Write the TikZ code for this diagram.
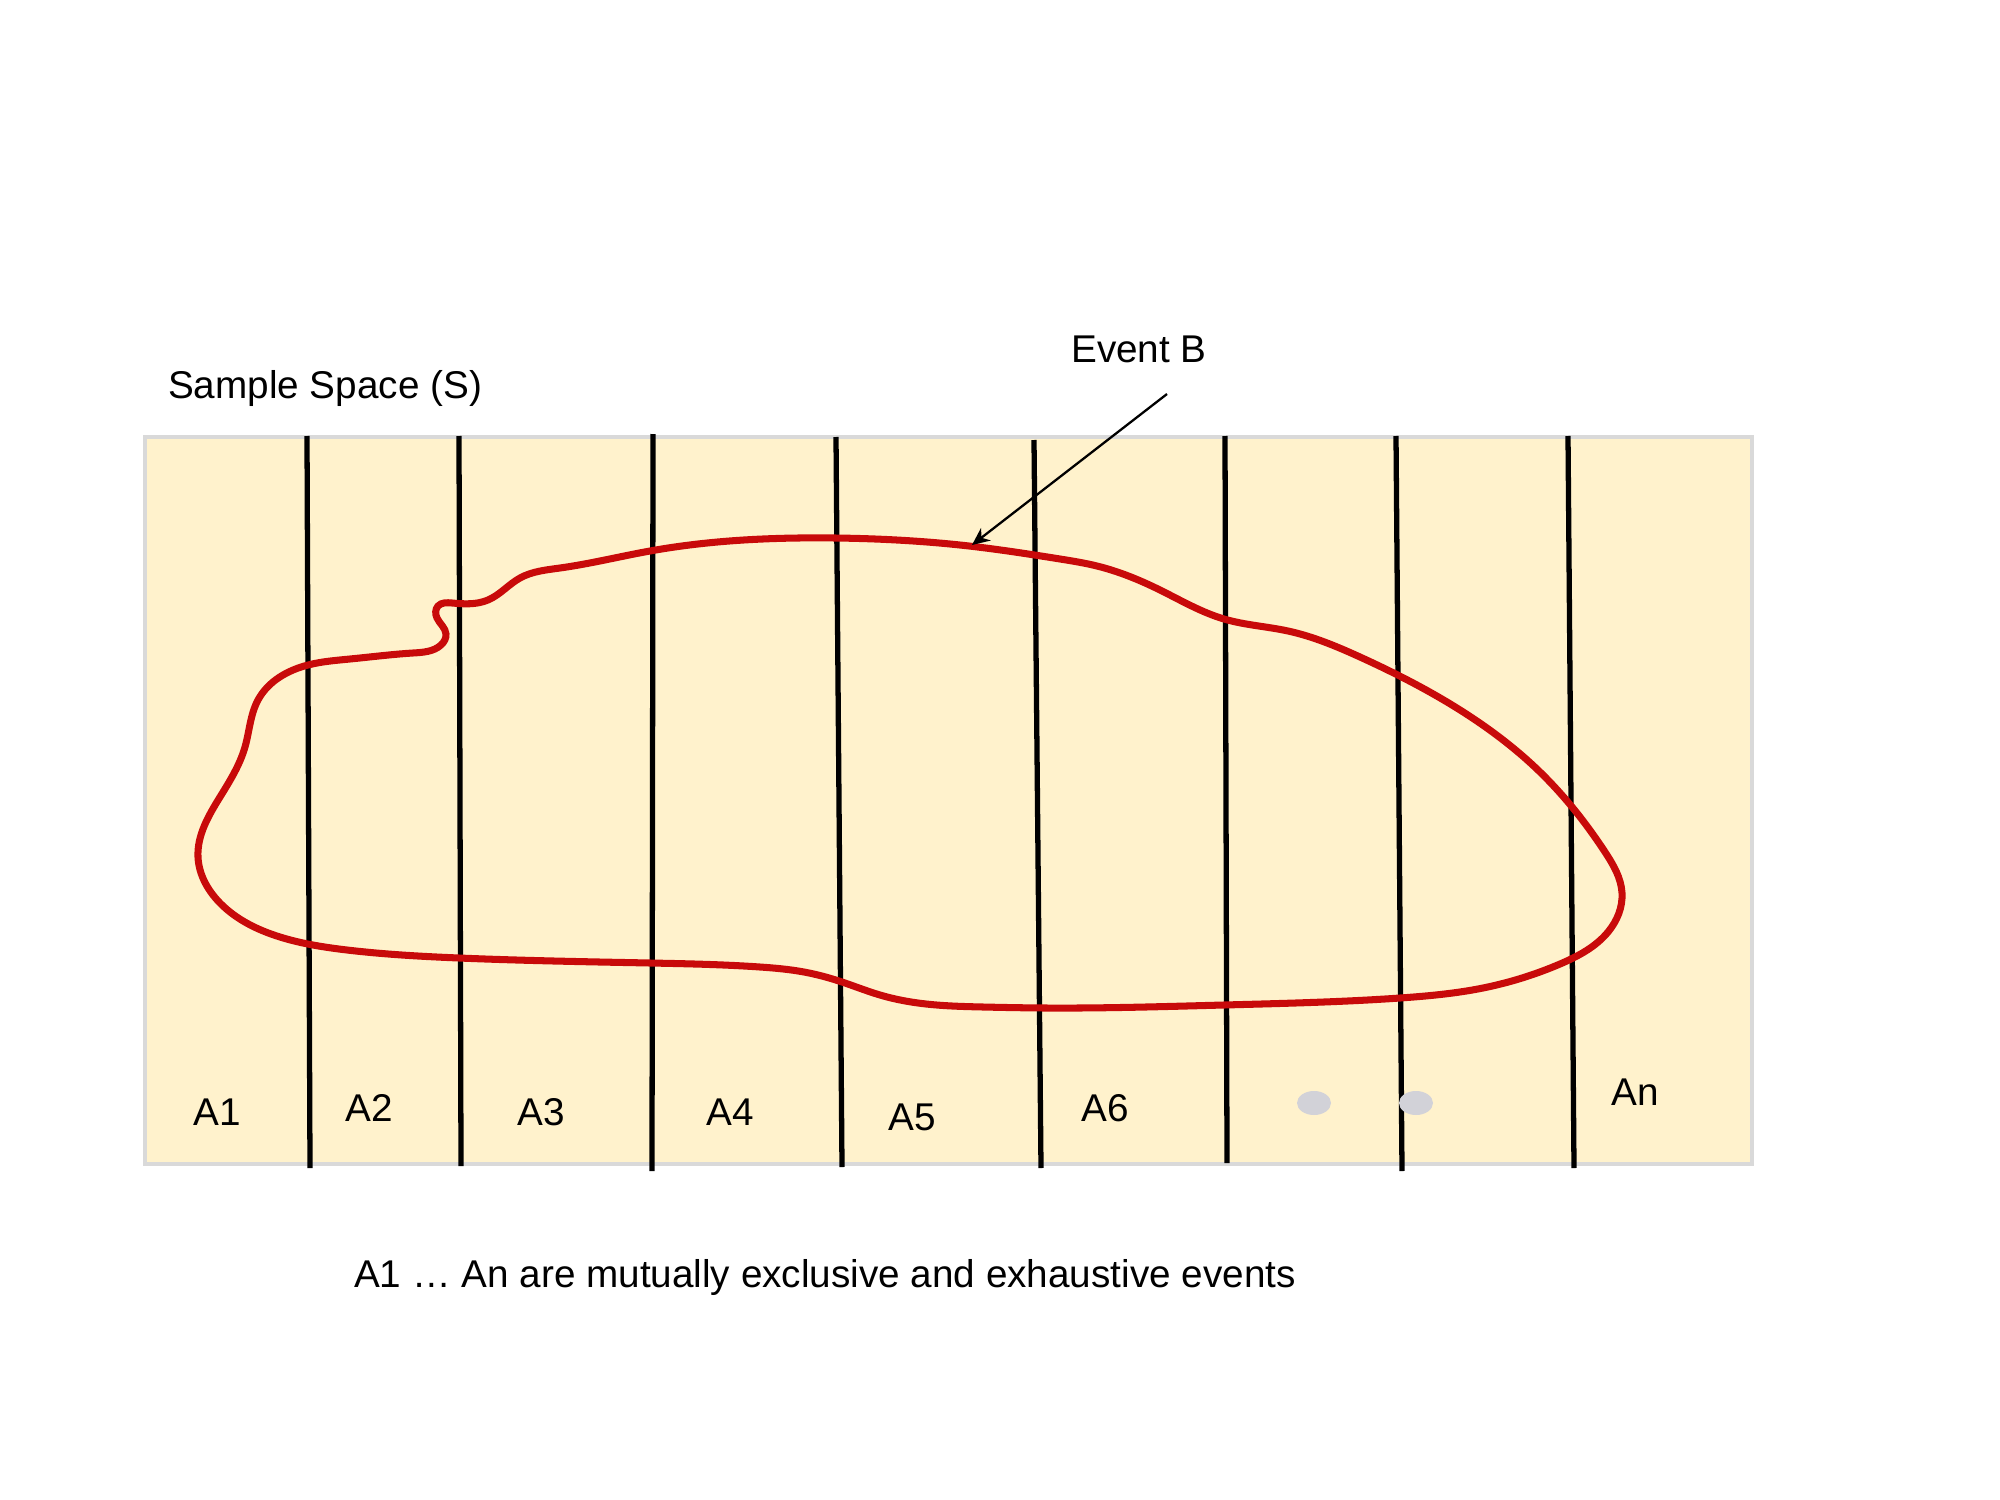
\documentclass[tikz,border=0pt]{standalone}
\usepackage{fontspec}
\setmainfont{Liberation Sans}
\usetikzlibrary{arrows.meta,hobby}
\definecolor{cream}{RGB}{255,242,204}
\definecolor{boxedge}{RGB}{217,217,217}
\definecolor{eventred}{RGB}{200,10,10}
\definecolor{dotgrey}{RGB}{210,210,216}
\tikzset{
  divider/.style={line width=1.5pt, black},
  lbl/.style={font=\fontsize{11}{13}\selectfont, inner sep=0pt},
  eventcurve/.style={line width=2pt, eventred},
  pointer/.style={line width=0.65pt, -{Stealth[length=5pt,width=4.5pt]}},
  dotmark/.style={fill=dotgrey, draw=none}
}
\begin{document}
\begin{tikzpicture}[x=0.01cm,y=-0.01cm]
\useasboundingbox (0,0) rectangle (2000,1500);
% sample space
\draw[fill=cream, draw=boxedge, line width=0.9pt] (145,437) rectangle (1752,1164);
% dividers
\draw[divider] (307,436) -- (310,1168);
\draw[divider] (459,436) -- (461,1166);
\draw[divider] (653,434) -- (652,1171);
\draw[divider] (836,437) -- (842,1167);
\draw[divider] (1034,440) -- (1041,1168);
\draw[divider] (1225,436) -- (1227,1163);
\draw[divider] (1396,436) -- (1402,1171);
\draw[divider] (1568,436) -- (1574,1168);
% event B
\draw[eventcurve, use Hobby shortcut, closed=true]
 (308,665) .. (350,659) .. (413,653) .. (441,645) .. (446,634)
 .. (437,618) .. (438,606) .. (452,603) .. (488,600) .. (520,578)
 .. (560,568) .. (650,551) .. (835,538) .. (969,546) .. (1060,559) .. (1097,566)
 .. (1160,590) .. (1224,619) .. (1288,631) .. (1360,657) .. (1447,702) .. (1540,772)
 .. (1605,852) .. (1622,893) .. (1608,932) .. (1560,964) .. (1483,988)
 .. (1400,998) .. (1224,1005) .. (1046,1008) .. (983,1007) .. (918,1003) .. (880,995)
 .. (842,982) .. (804,972) .. (760,967) .. (650,963) .. (459,958) .. (347,950)
 .. (280,937) .. (220,903)
 .. (198,857) .. (220,797) .. (245,747) .. (258,700);
\coordinate (tip) at (972,545);
\coordinate (tail) at (1167,394);
\node[lbl] (evb) at (1139,349) {Event B};
\draw[pointer] (tail) -- (tip);
\node[lbl] (ss) at (325,388) {Sample Space (S)};
% labels
\node[lbl] (a1) at (217,1112) {A1};
\node[lbl] (a2) at (369,1108) {A2};
\node[lbl] (a3) at (541,1112) {A3};
\node[lbl] (a4) at (730,1112) {A4};
\node[lbl] (a5) at (912,1117) {A5};
\node[lbl] (a6) at (1105,1108) {A6};
\node[lbl] (an) at (1635,1092) {An};
\fill[dotmark] (1314,1103) ellipse (17 and 12);
\fill[dotmark] (1416,1103) ellipse (17 and 12);
\node[lbl] (note) at (825,1277) {A1 \dots\ An are mutually exclusive and exhaustive events};
\end{tikzpicture}
\end{document}
